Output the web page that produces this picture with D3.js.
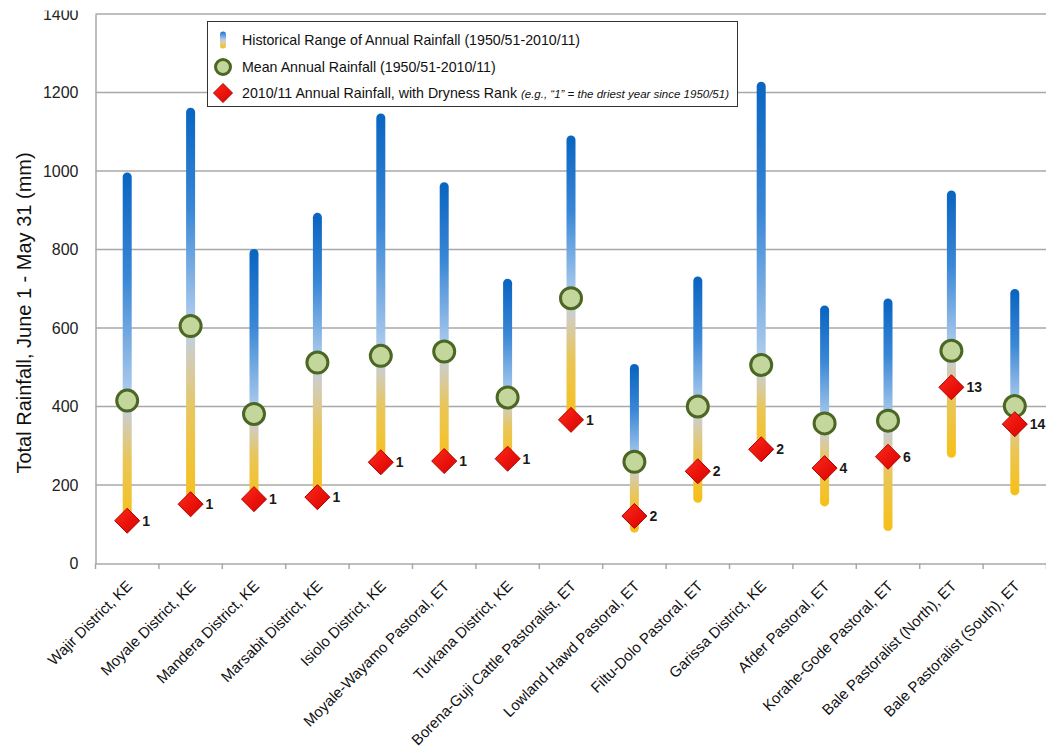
<!DOCTYPE html>
<html><head><meta charset="utf-8">
<script src="https://cdn.jsdelivr.net/npm/d3@7"></script>
<style>
html,body{margin:0;padding:0;background:#fff;}
svg{display:block;font-family:"Liberation Sans",Arial,sans-serif;}
</style></head>
<body>
<svg id="chart" width="1046" height="749"></svg>
<script>
const categories = ["Wajir District, KE","Moyale District, KE","Mandera District, KE","Marsabit District, KE","Isiolo District, KE","Moyale-Wayamo Pastoral, ET","Turkana District, KE","Borena-Guji Cattle Pastoralist, ET","Lowland Hawd Pastoral, ET","Filtu-Dolo Pastoral, ET","Garissa District, KE","Afder Pastoral, ET","Korahe-Gode Pastoral, ET","Bale Pastoralist (North), ET","Bale Pastoralist (South), ET"];
const maxVals = [985,1150,790,882,1135,960,714,1079,497,720,1216,646,664,939,688];
const minVals = [109,151,164,169,258,261,267,366,90,166,283,157,94,281,185];
const meanVals = [415,605,381,512,529,540,423,676,259,400,506,357,364,542,401];
const currentVals = [109,151,164,169,258,261,267,366,121,235,291,243,272,449,355];
const ranks = [1,1,1,1,1,1,1,1,2,2,2,4,6,13,14];
const yTicks = [0,200,400,600,800,1000,1200,1400];
const yTitle = "Total Rainfall, June 1 - May 31 (mm)";
const legendLabels = ["Historical Range of Annual Rainfall (1950/51-2010/11)","Mean Annual Rainfall (1950/51-2010/11)","2010/11 Annual Rainfall, with Dryness Rank "];
const legendNote = "(e.g., \u201C1\u201D = the driest year since 1950/51)";

const data = categories.map((c,i)=>({cat:c,max:maxVals[i],min:minVals[i],mean:meanVals[i],cur:currentVals[i],rank:ranks[i]}));

const svg = d3.select("#chart");
const defs = svg.append("defs");
const x = d3.scaleBand().domain(categories).range([95.5,1046.5]).padding(0);
const y = d3.scaleLinear().domain([0,1400]).range([563.5,14]);

// gridlines
svg.append("g").selectAll("line").data(yTicks.filter(t=>t>0)).join("line")
  .attr("x1",95.5).attr("x2",1046).attr("y1",d=>y(d)).attr("y2",d=>y(d))
  .attr("stroke","#a8a8a8").attr("stroke-width",1.5);

// y axis
const yAxis = svg.append("g").attr("transform","translate(95.5,0)")
  .call(d3.axisLeft(y).tickValues(yTicks).tickFormat(d3.format("d")).tickSize(0).tickPadding(17));
yAxis.select(".domain").attr("stroke","#a8a8a8").attr("stroke-width",1.5);
yAxis.selectAll("text").attr("font-size",16).attr("fill","#222").attr("font-family","'Liberation Sans',Arial,sans-serif");
// the top label is partly hidden in the original
svg.append("rect").attr("x",0).attr("y",0).attr("width",94).attr("height",10.5).attr("fill","#fff");

// x axis
const xAxis = svg.append("g").attr("transform","translate(0,563.5)")
  .call(d3.axisBottom(x).tickSize(0).tickFormat(""));
xAxis.select(".domain").attr("stroke","#a8a8a8").attr("stroke-width",1.5);
const bounds = categories.map(c=>x(c)).concat([x(categories[categories.length-1])+x.bandwidth()]);
svg.append("g").selectAll("line").data(bounds).join("line")
  .attr("x1",d=>d).attr("x2",d=>d).attr("y1",563.5).attr("y2",569)
  .attr("stroke","#a8a8a8").attr("stroke-width",1.5);
svg.append("g").selectAll("text").data(categories).join("text")
  .attr("transform",d=>`translate(${x(d)+x.bandwidth()/2+6},${587}) rotate(-45)`)
  .attr("text-anchor","end").attr("font-size",15).attr("fill","#111")
  .text(d=>d);

// y title
svg.append("text").attr("transform","translate(31,313) rotate(-90)")
  .attr("text-anchor","middle").attr("font-size",20).attr("fill","#111").text(yTitle);

// gradients
data.forEach((d,i)=>{
  const m = (d.max-d.mean)/(d.max-d.min);
  const g = defs.append("linearGradient").attr("id","g"+i)
    .attr("gradientUnits","userSpaceOnUse")
    .attr("x1",0).attr("x2",0).attr("y1",y(d.max)).attr("y2",y(d.min));
  const stops = [
    [0,"#0b66c2"],[m*0.45,"#3a87d6"],[m,"#b4d0ee"],
    [m+(1-m)*0.15,"#cfcdc2"],[m+(1-m)*0.5,"#e9c658"],[1,"#f6c01c"]];
  stops.forEach(s=>g.append("stop").attr("offset",s[0]).attr("stop-color",s[1]));
});
const lg = defs.append("linearGradient").attr("id","lg").attr("x1",0).attr("x2",0).attr("y1",0).attr("y2",1);
[[0,"#1a6fc8"],[0.45,"#a9c9ec"],[0.6,"#d8cfb0"],[1,"#f5c018"]].forEach(s=>lg.append("stop").attr("offset",s[0]).attr("stop-color",s[1]));
const dg = defs.append("linearGradient").attr("id","dg").attr("x1",0).attr("x2",1).attr("y1",0).attr("y2",1);
[[0,"#ff2a1a"],[1,"#d80000"]].forEach(s=>dg.append("stop").attr("offset",s[0]).attr("stop-color",s[1]));

const cx = d=>x(d.cat)+x.bandwidth()/2;

// bars
svg.append("g").selectAll("line").data(data).join("line")
  .attr("x1",cx).attr("x2",cx).attr("y1",d=>y(d.max)).attr("y2",d=>y(d.min))
  .attr("stroke",(d,i)=>`url(#g${i})`).attr("stroke-width",9).attr("stroke-linecap","round");

// mean circles
svg.append("g").selectAll("circle").data(data).join("circle")
  .attr("cx",cx).attr("cy",d=>y(d.mean)).attr("r",10.5)
  .attr("fill","#c3d69b").attr("stroke","#4b6723").attr("stroke-width",3);

// diamonds
const dsz = 12.5;
svg.append("g").selectAll("path").data(data).join("path")
  .attr("d",d=>{const X=cx(d),Y=y(d.cur);return `M${X},${Y-dsz}L${X+dsz},${Y}L${X},${Y+dsz}L${X-dsz},${Y}Z`;})
  .attr("fill","url(#dg)").attr("stroke","#b00000").attr("stroke-width",1);

// rank labels
svg.append("g").selectAll("text").data(data).join("text")
  .attr("x",d=>cx(d)+15).attr("y",d=>y(d.cur)).attr("dy","0.36em")
  .attr("font-size",14).attr("font-weight","bold").attr("fill","#1a1a1a")
  .text(d=>d.rank);

// legend
const L = svg.append("g");
L.append("rect").attr("x",207.5).attr("y",21.5).attr("width",530).attr("height",85)
  .attr("fill","#fff").attr("stroke","#333").attr("stroke-width",1);
const ly = [40,67,93];
L.append("rect").attr("x",220).attr("y",ly[0]-8.5).attr("width",6).attr("height",17).attr("rx",3).attr("fill","url(#lg)");
L.append("circle").attr("cx",223).attr("cy",ly[1]).attr("r",7.5).attr("fill","#c3d69b").attr("stroke","#4b6723").attr("stroke-width",3);
const ld=9.5;
L.append("path").attr("d",`M223,${ly[2]-ld}L${223+ld},${ly[2]}L223,${ly[2]+ld}L${223-ld},${ly[2]}Z`).attr("fill","url(#dg)").attr("stroke","#b00000");
legendLabels.forEach((t,i)=>{
  const tx = L.append("text").attr("x",242).attr("y",ly[i]).attr("dy","0.35em").attr("font-size",14.2).attr("fill","#111").text(t);
  if(i===2){
    tx.append("tspan").attr("font-style","italic").attr("font-size",11.5).text(legendNote);
  }
});
</script>
</body></html>
